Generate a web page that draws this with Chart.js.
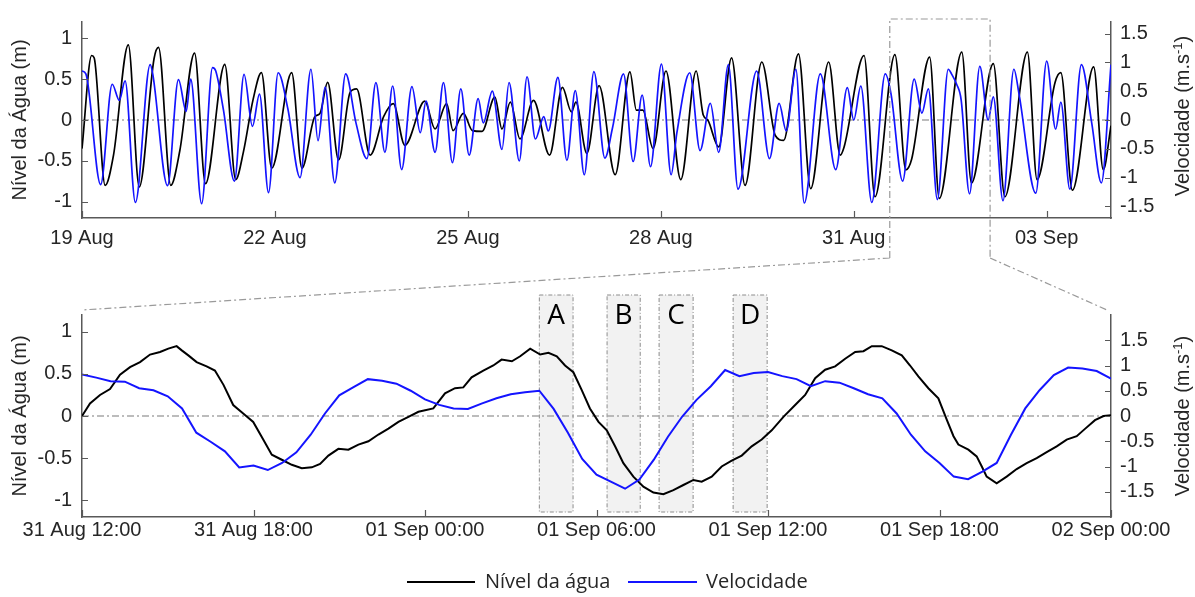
<!DOCTYPE html>
<html><head><meta charset="utf-8">
<script src="https://cdn.jsdelivr.net/npm/chart.js@4.4.0/dist/chart.umd.min.js"></script>
<style>
html,body{margin:0;padding:0;background:#fff;}
#wrap{position:relative;width:1195px;height:597px;overflow:hidden;font-family:"Liberation Sans",Arial,sans-serif;}
canvas{position:absolute;left:0;top:0;}
.rt{position:absolute;font-size:20px;color:#262626;white-space:nowrap;transform:translate(-50%,-50%) rotate(-90deg);line-height:24px;}
.rt sup{font-size:13px;}
.lg{position:absolute;height:0;}
.lgt{position:absolute;font-family:"Open Sans",sans-serif;font-size:20px;line-height:24px;color:#262626;white-space:nowrap;}
</style></head>
<body>
<div id="wrap">
<canvas id="top" width="1195" height="597"></canvas>
<canvas id="bot" width="1195" height="597"></canvas>
<div class="rt" style="left:1180px;top:116px">Velocidade (m.s<sup>-1</sup>)</div>
<div class="rt" style="left:1180px;top:416px">Velocidade (m.s<sup>-1</sup>)</div>
<div class="lg" style="left:407px;top:581px;width:68px;border-top:2px solid #000"></div>
<div class="lgt" style="left:485px;top:569px">Nível da água</div>
<div class="lg" style="left:628px;top:581px;width:69px;border-top:2px solid #1414ff"></div>
<div class="lgt" style="left:706px;top:569px">Velocidade</div>
</div>
<script>
// ---------- DATA ----------
// Top panel: days since 19 Aug 00:00
const topLevelDays = [0.00,0.15,0.19,0.36,0.49,0.72,0.89,1.12,1.19,1.38,1.52,1.75,1.92,2.22,2.39,2.51,2.66,2.79,2.95,3.26,3.42,3.62,3.70,3.82,3.99,4.17,4.27,4.48,4.69,4.84,5.02,5.33,5.49,5.67,5.77,5.93,6.07,6.22,6.42,6.53,6.66,6.81,7.02,7.27,7.47,7.61,7.68,7.85,8.04,8.29,8.52,8.62,8.72,8.88,9.08,9.31,9.55,9.66,9.73,9.90,10.10,10.31,10.57,10.78,10.91,11.14,11.33,11.61,11.79,11.85,12.16,12.33,12.64,12.81,12.90,13.18,13.33,13.68,13.83,14.17,14.35,14.70,14.85,15.13,15.22,15.40,15.73,15.88,16.00];
const topLevel = [-0.35,0.79,0.76,-0.80,-0.43,0.92,-0.82,0.75,0.89,-0.80,-0.38,0.82,-0.78,0.68,-0.73,-0.39,0.25,0.58,-0.59,0.58,-0.59,0.04,0.08,0.46,-0.49,0.34,0.38,-0.43,0.04,0.20,-0.31,0.23,-0.11,0.20,-0.13,0.08,-0.13,-0.14,0.28,-0.11,0.22,-0.23,0.24,-0.43,0.40,0.10,0.22,-0.41,0.42,-0.67,0.59,0.12,0.12,-0.35,0.60,-0.73,0.60,0.06,0.00,-0.33,0.76,-0.80,0.71,-0.19,-0.25,0.81,-0.84,0.71,-0.43,-0.33,0.79,-0.94,0.80,-0.61,-0.48,0.77,-0.96,0.83,-0.77,0.69,-0.94,0.83,-0.73,0.46,0.58,-0.86,0.65,-0.61,-0.07];
const topVelDays = [0.00,0.06,0.29,0.47,0.58,0.67,0.83,1.06,1.10,1.33,1.50,1.62,1.69,1.86,2.03,2.08,2.20,2.37,2.52,2.65,2.76,2.90,3.05,3.20,3.39,3.56,3.67,3.78,3.93,4.10,4.26,4.43,4.57,4.71,4.83,4.97,5.13,5.26,5.35,5.49,5.62,5.76,5.89,6.02,6.16,6.24,6.38,6.53,6.64,6.80,6.92,7.05,7.18,7.25,7.40,7.54,7.67,7.81,7.96,8.13,8.25,8.42,8.57,8.71,8.84,9.01,9.16,9.25,9.45,9.61,9.77,9.90,10.05,10.20,10.49,10.69,10.84,10.95,11.10,11.23,11.48,11.72,11.90,12.00,12.11,12.28,12.49,12.58,12.76,12.94,13.06,13.16,13.30,13.47,13.52,13.60,13.67,13.80,13.96,14.09,14.17,14.32,14.49,14.57,14.83,15.00,15.14,15.22,15.36,15.54,15.70,15.85,16.00];
const topVel = [0.85,0.80,-1.12,0.62,0.34,0.68,-1.43,0.96,0.80,-1.14,0.70,0.15,0.71,-1.45,0.91,0.85,0.17,-1.06,0.79,-0.11,0.45,-1.26,0.82,0.20,-1.00,0.88,-0.36,0.57,-1.09,0.80,-0.05,-0.67,0.65,-0.56,0.59,-0.86,0.58,-0.22,0.33,-0.56,0.65,-0.74,0.54,-0.61,0.37,-0.05,0.50,-0.51,0.65,-0.71,0.75,-0.33,0.06,-0.19,0.74,-0.70,0.51,-0.95,0.84,-0.66,-0.13,0.80,-0.72,0.43,-0.81,0.97,-0.95,-0.22,0.82,-0.53,0.29,-0.56,0.96,-1.20,0.85,-0.67,0.29,-0.19,0.88,-1.44,0.80,-0.86,0.56,0.00,0.59,-1.43,0.80,0.45,-1.06,0.71,0.12,0.54,-1.38,0.88,0.80,0.62,0.35,-1.28,0.93,0.00,0.40,-1.40,0.88,0.45,-1.27,1.02,-0.16,0.31,-1.20,0.96,-0.05,-1.09,0.96];
const topTickDays = [0,3,6,9,12,15];
const topTickLabels = ['19 Aug','22 Aug','25 Aug','28 Aug','31 Aug','03 Sep'];
// Bottom panel: hours since 31 Aug 12:00
const zoomLevelHours = [0,0.28,0.63,0.98,1.33,1.68,2.03,2.38,2.73,3.02,3.31,3.49,3.72,4.01,4.36,4.65,4.95,5.29,5.64,5.99,6.34,6.64,6.99,7.34,7.69,8.04,8.33,8.62,8.97,9.32,9.67,10.02,10.37,10.72,11.07,11.42,11.77,12.29,12.70,13.05,13.34,13.63,14.04,14.39,14.68,15.04,15.33,15.68,16.03,16.32,16.61,16.90,17.19,17.48,17.77,18.07,18.36,18.65,18.94,19.29,19.64,19.99,20.34,20.69,21.04,21.39,21.68,22.03,22.38,22.73,23.08,23.43,23.78,24.13,24.54,24.95,25.30,25.65,26.00,26.35,26.70,27.05,27.34,27.63,27.98,28.33,28.68,28.97,29.26,29.61,29.96,30.26,30.49,30.66,31.01,31.30,31.48,31.65,32.00,32.35,32.70,33.05,33.40,33.75,34.10,34.45,34.80,35.10,35.44,35.74,36.00];
const zoomLevel = [0.00,0.15,0.25,0.32,0.49,0.58,0.64,0.73,0.76,0.80,0.83,0.78,0.72,0.64,0.59,0.54,0.37,0.13,0.03,-0.07,-0.28,-0.46,-0.52,-0.58,-0.62,-0.61,-0.57,-0.47,-0.39,-0.40,-0.34,-0.30,-0.22,-0.15,-0.07,-0.01,0.05,0.09,0.27,0.33,0.34,0.46,0.54,0.60,0.67,0.65,0.71,0.80,0.73,0.75,0.71,0.60,0.52,0.31,0.09,-0.07,-0.17,-0.36,-0.56,-0.72,-0.84,-0.91,-0.93,-0.88,-0.82,-0.76,-0.78,-0.72,-0.60,-0.53,-0.47,-0.36,-0.28,-0.17,-0.01,0.13,0.25,0.45,0.55,0.59,0.68,0.76,0.77,0.83,0.83,0.78,0.72,0.60,0.47,0.33,0.21,-0.05,-0.24,-0.34,-0.40,-0.48,-0.60,-0.72,-0.80,-0.72,-0.63,-0.56,-0.50,-0.43,-0.36,-0.28,-0.24,-0.15,-0.05,0.00,0.01];
const zoomVelHours = [0,0.5,1,1.5,2,2.5,3,3.5,4,4.5,5,5.5,6,6.5,7,7.5,8,8.5,9,9.5,10,10.5,11,11.5,12,12.5,13,13.5,14,14.5,15,15.5,16,16.5,17,17.5,18,18.5,19,19.5,20,20.5,21,21.5,22,22.5,23,23.5,24,24.5,25,25.5,26,26.5,27,27.5,28,28.5,29,29.5,30,30.5,31,31.5,32,32.5,33,33.5,34,34.5,35,35.5,36];
const zoomVel = [0.82,0.76,0.69,0.68,0.55,0.51,0.39,0.15,-0.33,-0.51,-0.70,-1.02,-0.98,-1.07,-0.93,-0.72,-0.37,0.05,0.41,0.57,0.73,0.70,0.64,0.50,0.33,0.22,0.15,0.14,0.25,0.35,0.43,0.47,0.50,0.14,-0.33,-0.85,-1.16,-1.30,-1.44,-1.26,-0.87,-0.41,-0.01,0.32,0.59,0.91,0.79,0.85,0.87,0.79,0.73,0.59,0.69,0.66,0.55,0.43,0.35,0.05,-0.37,-0.70,-0.93,-1.20,-1.25,-1.10,-0.93,-0.37,0.15,0.51,0.81,0.96,0.94,0.89,0.74];
const zoomTickHours = [0,6,12,18,24,30,36];
const zoomTickLabels = ['31 Aug 12:00','31 Aug 18:00','01 Sep 00:00','01 Sep 06:00','01 Sep 12:00','01 Sep 18:00','02 Sep 00:00'];
const levelTicks = [-1,-0.5,0,0.5,1];
const velTicks = [-1.5,-1,-0.5,0,0.5,1,1.5];
const eventLabels = ['A','B','C','D'];
const eventStartHours = [16.0,18.37,20.19,22.78];
const eventEndHours = [17.18,19.53,21.38,23.97];
const zoomWindowDays = [12.56,14.12];

// ---------- STYLE ----------
const AX = '#595959', TXT = '#262626', BLUE = '#1414ff';
const tickFont = {family:'"Liberation Sans", Arial, sans-serif', size:20};
const DASHDOT = [7,3,2,3];

function pts(xs, ys){ return xs.map((x,i)=>({x:x,y:ys[i]})); }
function fixTicks(vals){ return s => { s.ticks = vals.map(v=>({value:v})); }; }

const decoPlugin = {
  id:'deco',
  beforeDatasetsDraw(chart, args, o){
    const {ctx, chartArea:ca, scales} = chart;
    ctx.save();
    if (o.events){
      const ys = ca.top - 20, ye = ca.bottom - 5;
      eventStartHours.forEach((h,i)=>{
        const x1 = scales.x.getPixelForValue(h), x2 = scales.x.getPixelForValue(eventEndHours[i]);
        ctx.fillStyle = '#f2f2f2';
        ctx.fillRect(x1, ys, x2-x1, ye-ys);
        ctx.strokeStyle = '#8c8c8c'; ctx.lineWidth = 1; ctx.setLineDash([4,2,1,2]);
        ctx.strokeRect(x1, ys, x2-x1, ye-ys);
        ctx.setLineDash([]);
        ctx.fillStyle = '#000'; ctx.font = '28px "Open Sans", sans-serif';
        ctx.textAlign = 'center'; ctx.textBaseline = 'middle';
        ctx.fillText(eventLabels[i], (x1+x2)/2, ca.top + 1);
      });
    }
    const y0 = scales.yL.getPixelForValue(0);
    ctx.strokeStyle = '#a6a6a6'; ctx.lineWidth = 1.3; ctx.setLineDash(DASHDOT);
    ctx.beginPath(); ctx.moveTo(ca.left, y0); ctx.lineTo(ca.right, y0); ctx.stroke();
    ctx.restore();
  },
  afterDraw(chart, args, o){
    const {ctx, chartArea:ca, scales} = chart;
    ctx.save();
    ctx.strokeStyle = AX; ctx.lineWidth = 1.2; ctx.setLineDash([]);
    ctx.beginPath();
    scales.x.ticks.forEach(t=>{ const x = Math.round(scales.x.getPixelForValue(t.value))+0.5; ctx.moveTo(x, ca.bottom); ctx.lineTo(x, ca.bottom-7); });
    scales.yL.ticks.forEach(t=>{ const y = Math.round(scales.yL.getPixelForValue(t.value))+0.5; ctx.moveTo(ca.left, y); ctx.lineTo(ca.left+6, y); });
    scales.yR.ticks.forEach(t=>{ const y = Math.round(scales.yR.getPixelForValue(t.value))+0.5; ctx.moveTo(ca.right, y); ctx.lineTo(ca.right-6, y); });
    ctx.stroke();
    if (o.connect && window.topChart){
      const tc = window.topChart, tx = tc.scales.x, tca = tc.chartArea;
      const xa = tx.getPixelForValue(zoomWindowDays[0]), xb = tx.getPixelForValue(zoomWindowDays[1]);
      const yt = tca.top - 3, yb = tca.bottom + 40;
      ctx.strokeStyle = '#9a9a9a'; ctx.lineWidth = 1.2; ctx.setLineDash(DASHDOT);
      ctx.beginPath();
      ctx.moveTo(xa, yb); ctx.lineTo(xa, yt); ctx.lineTo(xb, yt); ctx.lineTo(xb, yb);
      ctx.moveTo(xa, yb); ctx.lineTo(ca.left, ca.top - 5);
      ctx.moveTo(xb, yb); ctx.lineTo(ca.right - 4, ca.top - 5);
      ctx.stroke();
    }
    ctx.restore();
  }
};

function makeChart(id, cfg){
  const common = {
    type:'line',
    data:{datasets:[
      {label:'Velocidade', data:cfg.vel, yAxisID:'yR', borderColor:BLUE, borderWidth:cfg.bw, pointRadius:0, order:0,
       cubicInterpolationMode:cfg.smooth?'monotone':'default', tension:0},
      {label:'Nível da água', data:cfg.lev, yAxisID:'yL', borderColor:'#000', borderWidth:cfg.bw, pointRadius:0, order:1,
       cubicInterpolationMode:cfg.smooth?'monotone':'default', tension:0}
    ]},
    options:{
      responsive:false, animation:false, devicePixelRatio:1,
      layout:{padding:cfg.pad},
      plugins:{legend:{display:false}, tooltip:{enabled:false}, deco:cfg.deco},
      scales:{
        x:{type:'linear', min:cfg.xmin, max:cfg.xmax,
           afterBuildTicks:fixTicks(cfg.xticks),
           afterFit:s=>{s.height=cfg.xh;},
           grid:{display:true, drawOnChartArea:false, drawTicks:false},
           border:{display:true, color:AX, width:1.5},
           ticks:{autoSkip:false, maxRotation:0, padding:cfg.xpad, color:TXT, font:tickFont,
                  callback:v=>cfg.xlabels[cfg.xticks.indexOf(v)]}},
        yL:{type:'linear', position:'left', min:-1.2, max:1.2,
            afterBuildTicks:fixTicks(levelTicks),
            afterFit:s=>{s.width=82;},
            grid:{display:true, drawOnChartArea:false, drawTicks:false},
            border:{display:true, color:AX, width:1.5},
            ticks:{padding:10, color:TXT, font:tickFont, callback:v=>String(v)},
            title:{display:true, text:'Nível da Água (m)', color:TXT, font:tickFont, padding:{top:8,bottom:0}}},
        yR:{type:'linear', position:'right', min:-cfg.vmax, max:cfg.vmax,
            afterBuildTicks:fixTicks(velTicks),
            afterFit:s=>{s.width=84;},
            grid:{display:true, drawOnChartArea:false, drawTicks:false},
            border:{display:true, color:AX, width:1.5},
            ticks:{padding:9, color:TXT, font:tickFont, callback:v=>String(v)}}
      }
    },
    plugins:[decoPlugin]
  };
  return new Chart(document.getElementById(id), common);
}

window.topChart = makeChart('top', {
  vel:pts(topVelDays, topVel), lev:pts(topLevelDays, topLevel), bw:1.7, smooth:true,
  pad:{top:15,left:0,right:0,bottom:347}, xh:32, xpad:8,
  xmin:0, xmax:16, xticks:topTickDays, xlabels:topTickLabels, vmax:1.7, deco:{}
});
window.botChart = makeChart('bot', {
  vel:pts(zoomVelHours, zoomVel), lev:pts(zoomLevelHours, zoomLevel), bw:2, smooth:false,
  pad:{top:315,left:0,right:0,bottom:50}, xh:30, xpad:1,
  xmin:0, xmax:36, xticks:zoomTickHours, xlabels:zoomTickLabels, vmax:2, deco:{events:true, connect:true}
});
</script>
</body></html>
